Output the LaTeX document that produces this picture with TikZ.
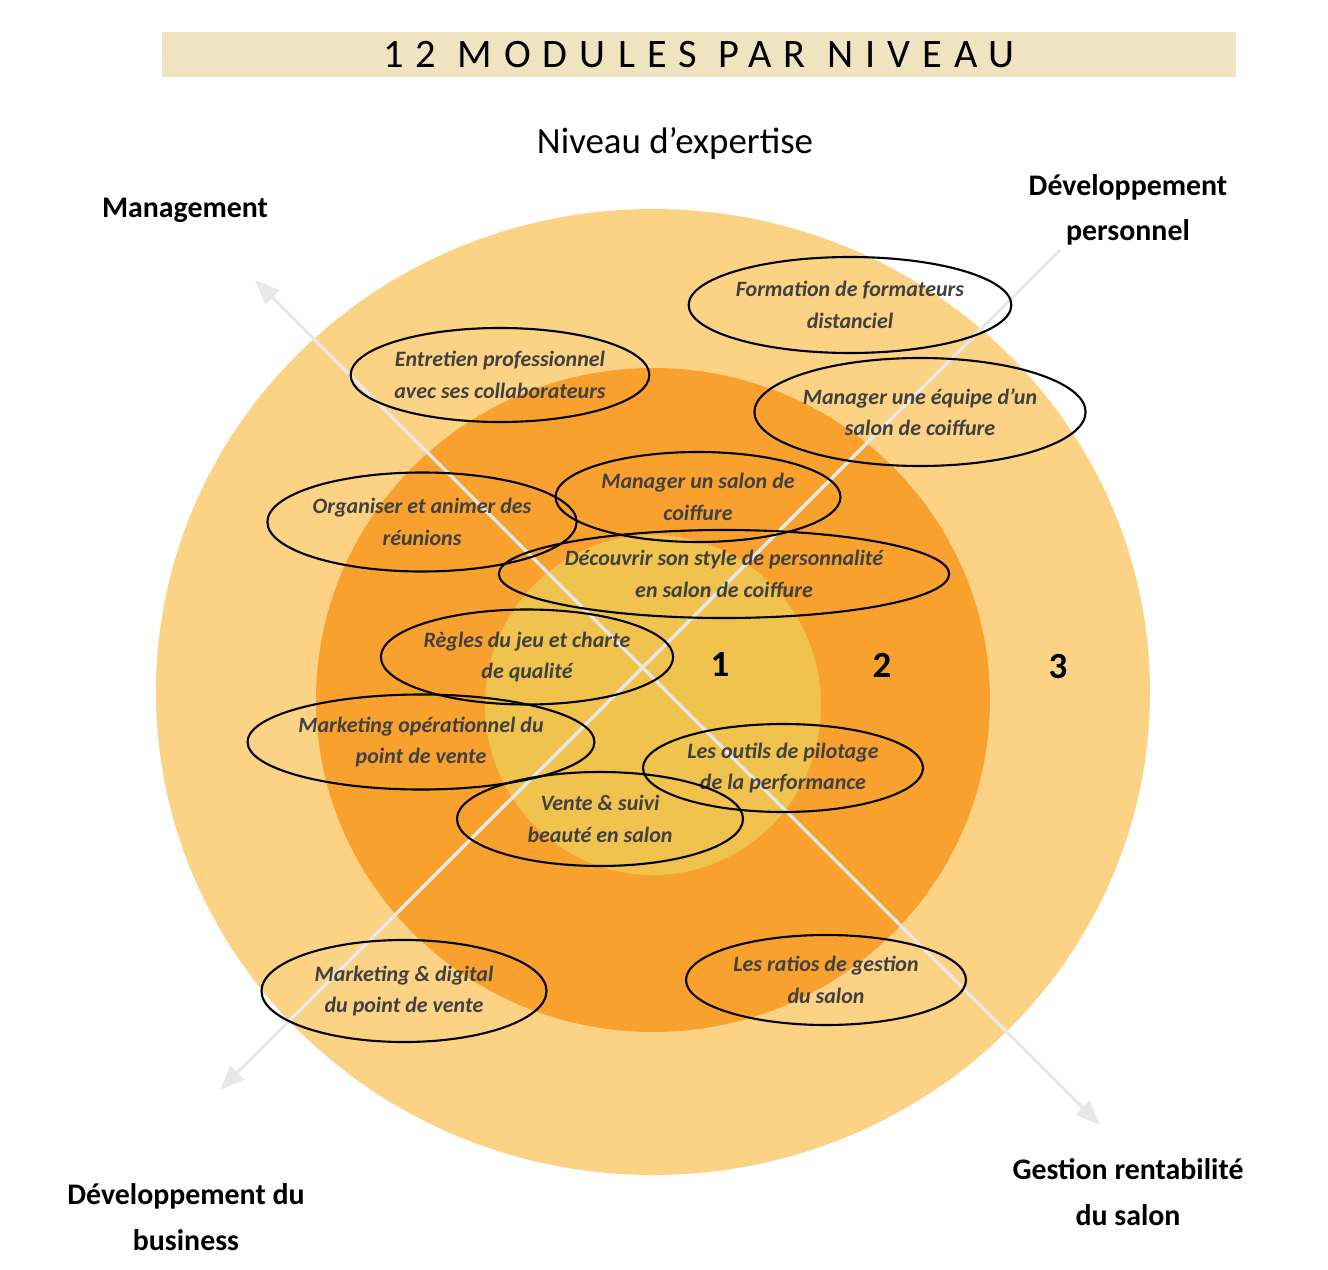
\documentclass[tikz,border=0pt]{standalone}
\usepackage{fontspec}
\setmainfont{Carlito}
\newfontfamily\spaced[LetterSpace=30]{Carlito}
\usetikzlibrary{arrows.meta,shapes.geometric}
\definecolor{ringthree}{HTML}{FCD385}
\definecolor{ringtwo}{HTML}{F9A12E}
\definecolor{ringone}{HTML}{F0C24E}
\definecolor{band}{HTML}{EFE4C0}
\definecolor{axisgray}{HTML}{E8E8E8}
\definecolor{txtgray}{HTML}{404040}
\tikzset{
 mod/.style={draw=black, line width=1.2pt, ellipse, align=center, inner sep=0pt, text=txtgray, font=\fontsize{12.5}{18}\selectfont\bfseries\itshape},
 head/.style={align=center, font=\fontsize{17}{26}\selectfont\bfseries},
 num/.style={font=\fontsize{21}{24}\selectfont\bfseries},
 axis/.style={draw=axisgray, line width=2pt},
}
\begin{document}
\begin{tikzpicture}[x=0.02cm,y=-0.02cm]
\useasboundingbox (0,0) rectangle (1328,1270);
\fill[ringthree] (653,692) ellipse [x radius=497, y radius=483];
\fill[ringtwo] (653,700) ellipse [x radius=337, y radius=332];
\fill[ringone] (653,705) ellipse [x radius=168, y radius=170];
\fill[band] (162,32) rectangle (1236,77);
\node (title) at (699,55) {\spaced\fontsize{23}{26}\selectfont 12 MODULES PAR NIVEAU};
\node (niv) at (675,143) {\fontsize{21}{26}\selectfont Niveau d’expertise};
\coordinate (mgmt) at (255,280);
\coordinate (gest) at (1100,1125);
\coordinate (biz) at (220,1090);
\coordinate (dev) at (1060,250);
\draw[axis,{Triangle[length=14pt,width=11pt]}-{Triangle[length=14pt,width=11pt]}] (mgmt) -- (gest);
\draw[axis,{Triangle[length=14pt,width=11pt]}-] (biz) -- (dev);
\node[mod, minimum width=313*0.02cm, minimum height=96*0.02cm] (m1) at (850,305) {Formation de formateurs\\distanciel};
\node[mod, minimum width=286*0.02cm, minimum height=94*0.02cm] (m2) at (500,375) {Entretien professionnel\\avec ses collaborateurs};
\node[mod, minimum width=315*0.02cm, minimum height=108*0.02cm] (m3) at (920,412) {Manager une équipe d’un\\salon de coiffure};
\node[mod, minimum width=285*0.02cm, minimum height=90*0.02cm] (m4) at (698,497) {Manager un salon de\\coiffure};
\node[mod, minimum width=285*0.02cm, minimum height=99*0.02cm] (m5) at (422,522) {Organiser et animer des\\réunions};
\node[mod, minimum width=410*0.02cm, minimum height=88*0.02cm] (m6) at (724,574) {Découvrir son style de personnalité\\en salon de coiffure};
\node[mod, minimum width=286*0.02cm, minimum height=95*0.02cm] (m7) at (527,657) {Règles du jeu et charte\\de qualité};
\node[mod, minimum width=286*0.02cm, minimum height=95*0.02cm] (m8) at (421,742) {Marketing opérationnel du\\point de vente};
\node[mod, minimum width=280*0.02cm, minimum height=88*0.02cm] (m9) at (783,768) {Les outils de pilotage\\de la performance};
\node[mod, minimum width=286*0.02cm, minimum height=94*0.02cm] (m10) at (600,819) {Vente \& suivi\\beauté en salon};
\node[mod, minimum width=280*0.02cm, minimum height=90*0.02cm] (m11) at (826,980) {Les ratios de gestion\\du salon};
\node[mod, minimum width=285*0.02cm, minimum height=102*0.02cm] (m12) at (404,991) {Marketing \& digital\\du point de vente};
\node[num] (n1) at (720,665) {1};
\node[num] (n2) at (882,665) {2};
\node[num] (n3) at (1058,667) {3};
\node[head] (hm) at (185,210) {Management};
\node[head] (hd) at (1128,210) {Développement\\personnel};
\node[head] (hb) at (186,1217) {Développement du\\business};
\node[head] (hg) at (1128,1192) {Gestion rentabilité\\du salon};
\end{tikzpicture}
\end{document}
